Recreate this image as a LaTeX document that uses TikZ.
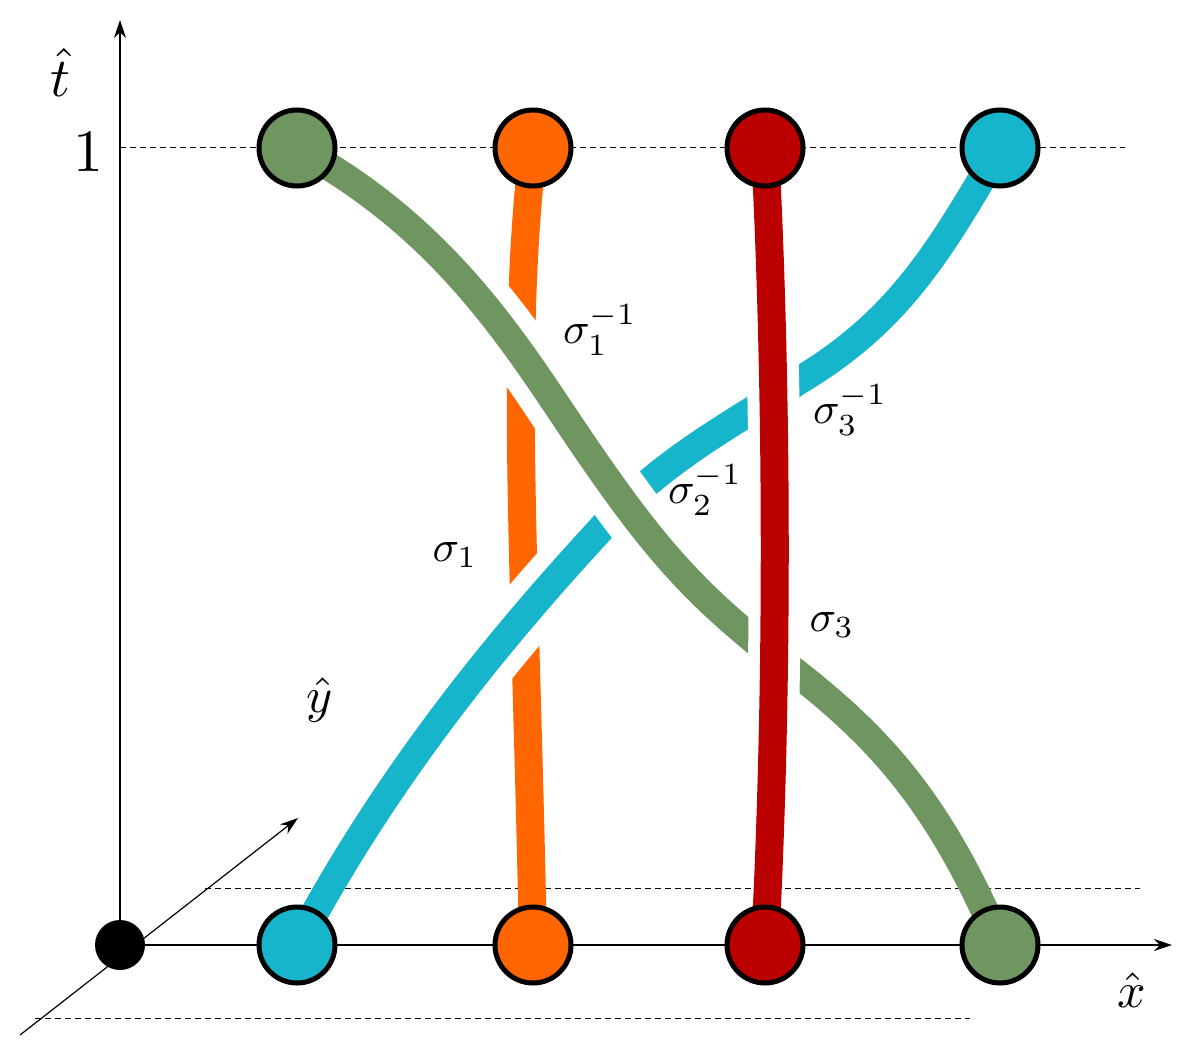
\documentclass[tikz,border=0pt]{standalone}
\usetikzlibrary{arrows.meta}
\definecolor{gr}{HTML}{6F9660}
\definecolor{or}{HTML}{FF6600}
\definecolor{rd}{HTML}{BB0000}
\definecolor{cy}{HTML}{17B5CB}
\begin{document}
\begin{tikzpicture}[x=1pt,y=-1pt,
 strand/.style={line width=28pt},
 halo/.style={line width=62pt,white},
 bead/.style={circle,draw=black,line width=5pt,minimum size=76pt,inner sep=0pt},
 lab/.style={scale=4.4},
 dsh/.style={dash pattern=on 6pt off 4pt,line width=1pt},
 ax/.style={line width=1.2pt,-{Stealth[length=18pt,width=12pt]}}]
\useasboundingbox (0,0) rectangle (1196,1043);
\fill[white] (0,0) rectangle (1196,1043);
% axes
\coordinate (o) at (120,945);
\coordinate (tt) at (120,20);
\coordinate (xx) at (1172,945);
\coordinate (yy0) at (20,1035);
\coordinate (yy) at (298,818);
\draw[ax] (o) -- (tt);
\draw[ax] (o) -- (xx);
\draw[ax] (yy0) -- (yy);
\coordinate (d1a) at (120,148); \coordinate (d1b) at (1125,148);
\coordinate (d2a) at (205,888); \coordinate (d2b) at (1140,888);
\coordinate (d3a) at (35,1018); \coordinate (d3b) at (970,1018);
\draw[dsh] (d1a) -- (d1b);
\draw[dsh] (d2a) -- (d2b);
\draw[dsh] (d3a) -- (d3b);
\node[circle,fill=black,minimum size=50pt,inner sep=0pt] (dot) at (o) {};
% beads coordinates
\coordinate (t1) at (297,148); \coordinate (t2) at (533,148);
\coordinate (t3) at (765,148); \coordinate (t4) at (1000,148);
\coordinate (b1) at (297,945); \coordinate (b2) at (533,945);
\coordinate (b3) at (765,945); \coordinate (b4) at (1000,945);
% orange
\draw[strand,or] (t2) .. controls (510,350) and (525,550) .. (b2);
% cyan
\begin{scope}
\clip (0,200) rectangle (1196,860);
\draw[halo] (b1) .. controls (380,790) and (480,660) .. (600,530) .. controls (660,460) and (740,420) .. (800,380) .. controls (900,320) and (940,250) .. (t4);
\end{scope}
\draw[strand,cy] (b1) .. controls (380,790) and (480,660) .. (600,530) .. controls (660,460) and (740,420) .. (800,380) .. controls (900,320) and (940,250) .. (t4);
% green
\begin{scope}
\clip (0,200) rectangle (1196,860);
\draw[halo] (t1) .. controls (430,220) and (500,320) .. (560,410) .. controls (640,530) and (680,580) .. (760,645) .. controls (860,720) and (930,780) .. (b4);
\end{scope}
\draw[strand,gr] (t1) .. controls (430,220) and (500,320) .. (560,410) .. controls (640,530) and (680,580) .. (760,645) .. controls (860,720) and (930,780) .. (b4);
% red
\begin{scope}
\clip (0,200) rectangle (1196,860);
\draw[halo,line width=52pt] (t3) .. controls (778,400) and (778,700) .. (b3);
\end{scope}
\draw[strand,rd] (t3) .. controls (778,400) and (778,700) .. (b3);
% beads
\node[bead,fill=gr] (n1) at (t1) {};
\node[bead,fill=or] (n2) at (t2) {};
\node[bead,fill=rd] (n3) at (t3) {};
\node[bead,fill=cy] (n4) at (t4) {};
\node[bead,fill=cy] (m1) at (b1) {};
\node[bead,fill=or] (m2) at (b2) {};
\node[bead,fill=rd] (m3) at (b3) {};
\node[bead,fill=gr] (m4) at (b4) {};
% labels
\node[scale=5.5] (lt) at (60,72) {$\hat t$};
\node[scale=6] (l1) at (88,152) {1};
\node[scale=5] (ly) at (320,700) {$\hat y$};
\node[scale=5] (lx) at (1132,990) {$\hat x$};
\node[lab] (s1i) at (600,330) {$\sigma_1^{-1}$};
\node[lab] (s3i) at (850,410) {$\sigma_3^{-1}$};
\node[lab] (s2i) at (705,490) {$\sigma_2^{-1}$};
\node[lab] (s1) at (455,555) {$\sigma_1$};
\node[lab] (s3) at (832,625) {$\sigma_3$};
\end{tikzpicture}
\end{document}
